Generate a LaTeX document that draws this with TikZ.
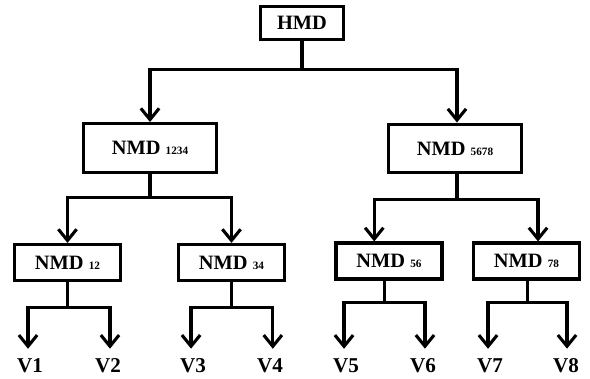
\documentclass[tikz,border=0pt]{standalone}
\usepackage{fontspec}
\setmainfont{Liberation Serif}
\usetikzlibrary{arrows.meta}
\newcommand{\sub}[1]{{\fontsize{8}{9}\selectfont #1}}
\begin{document}
\begin{tikzpicture}[x=0.025cm,y=-0.025cm,
    box/.style={draw,line width=2.2pt,font=\fontsize{14.5}{16}\selectfont\bfseries,inner sep=0pt},
    bigbox/.style={box,minimum width=3.32cm,minimum height=1.22cm},
    smallbox/.style={box,minimum width=2.65cm,minimum height=0.9cm},
    leaf/.style={font=\fontsize{15}{17}\selectfont\bfseries,inner xsep=0pt,inner ysep=7pt},
    arr/.style={line width=2.2pt,-{Straight Barb[length=8pt,width=13pt]}}]
\useasboundingbox (0,0) rectangle (590,379);
\node[box,minimum width=2.08cm,minimum height=0.83cm] (hmd) at (302,23) {HMD};
\node[bigbox] (n1234) at (150,148) {NMD \sub{1234}};
\node[bigbox] (n5678) at (455,148.5) {NMD \sub{5678}};
\node[smallbox] (n12) at (67.5,262.5) {NMD \sub{12}};
\node[smallbox] (n34) at (231.5,262.5) {NMD \sub{34}};
\node[smallbox] (n56) at (389,261) {NMD \sub{56}};
\node[smallbox] (n78) at (526.5,261) {NMD \sub{78}};
\node[leaf] (v1) at (30,366) {V1};
\node[leaf] (v2) at (108,366) {V2};
\node[leaf] (v3) at (193,366) {V3};
\node[leaf] (v4) at (270,366) {V4};
\node[leaf] (v5) at (346,366) {V5};
\node[leaf] (v6) at (423,366) {V6};
\node[leaf] (v7) at (490,366) {V7};
\node[leaf] (v8) at (566,366) {V8};
\draw[arr] (hmd.south) -- ++(0,28) -| (n1234.north);
\draw[arr] (hmd.south) -- ++(0,28) -| ([xshift=1.4pt]n5678.north);
\draw[arr] (n1234.south) -- ++(0,24) -| (n12.north);
\draw[arr] (n1234.south) -- ++(0,24) -| (n34.north);
\draw[arr] ([xshift=1.4pt]n5678.south) -- ++(0,25) -| ([xshift=-10.5pt]n56.north);
\draw[arr] ([xshift=1.4pt]n5678.south) -- ++(0,25) -| ([xshift=8.2pt]n78.north);
\draw[arr] (n12.south) -- ++(0,25) -| ([xshift=-1.4pt]v1.north);
\draw[arr] (n12.south) -- ++(0,25) -| ([xshift=1.4pt]v2.north);
\draw[arr] (n34.south) -- ++(0,25) -| ([xshift=-1.4pt]v3.north);
\draw[arr] (n34.south) -- ++(0,25) -| ([xshift=2pt]v4.north);
\draw[arr] ([xshift=-3.5pt]n56.south) -- ++(0,22) -| ([xshift=-1.4pt]v5.north);
\draw[arr] ([xshift=-3.5pt]n56.south) -- ++(0,22) -| ([xshift=1.4pt]v6.north);
\draw[arr] ([xshift=1pt]n78.south) -- ++(0,22) -| ([xshift=-1.4pt]v7.north);
\draw[arr] ([xshift=1pt]n78.south) -- ++(0,22) -| ([xshift=0.7pt]v8.north);
\end{tikzpicture}
\end{document}
